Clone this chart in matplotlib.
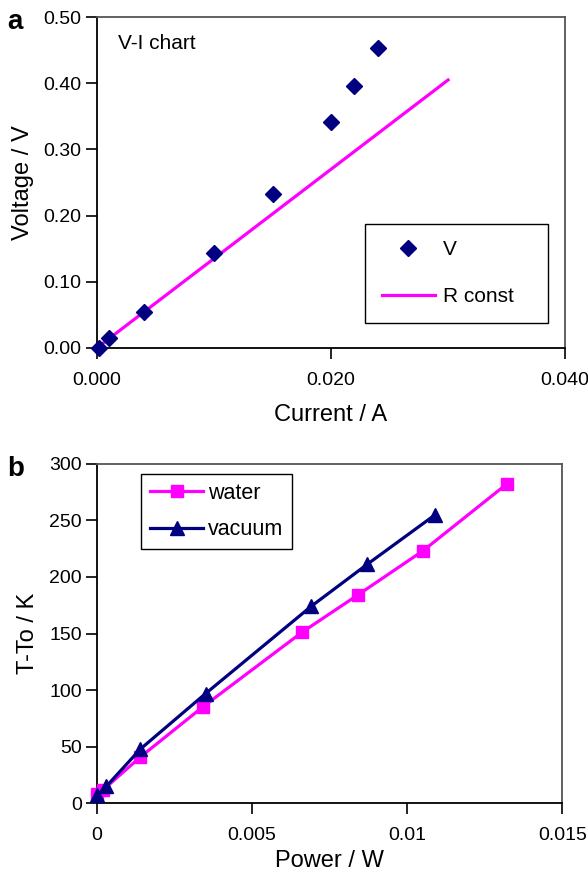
import numpy as np
import matplotlib.pyplot as plt
from matplotlib import rc

rc('font', **{'family': 'sans-serif', 'sans-serif': ['Liberation Sans', 'DejaVu Sans']})

# panel a: V-I data
current = [0.0002, 0.001, 0.004, 0.010, 0.015, 0.020, 0.022, 0.024]
voltage = [0.000, 0.015, 0.054, 0.143, 0.233, 0.342, 0.396, 0.454]
r_const_i = [0.0002, 0.030]
r_const_v = [0.003, 0.405]

# panel b: temperature rise vs power
water_p = [0.0, 0.0002, 0.0014, 0.0034, 0.0066, 0.0084, 0.0105, 0.0132]
water_t = [8.0, 12.0, 41.0, 85.0, 151.0, 184.0, 223.0, 282.0]
vacuum_p = [0.0, 0.0003, 0.0014, 0.0035, 0.0069, 0.0087, 0.0109]
vacuum_t = [7.0, 15.0, 48.0, 97.0, 174.0, 211.0, 255.0]

navy = '#000080'
magenta = '#ff00ff'

fig = plt.figure(figsize=(5.88, 8.73), dpi=100)
ax1 = fig.add_axes([0.165, 0.6014, 0.796, 0.379])
ax2 = fig.add_axes([0.165, 0.0798, 0.7916, 0.389])

def style(ax):
    for s in ['left', 'bottom']:
        ax.spines[s].set_color('black')
        ax.spines[s].set_linewidth(1.3)
    for s in ['top', 'right']:
        ax.spines[s].set_color('#555555')
        ax.spines[s].set_linewidth(1.3)
    ax.tick_params(axis='both', which='major', direction='out', length=8, width=1.2,
                   labelsize=14)
    ax.tick_params(axis='y', pad=3)
    ax.tick_params(axis='x', pad=9)

# ---- a ----
ax1.plot(current, voltage, 'D', color=navy, markersize=8.5, label='V', clip_on=False, zorder=3)
ax1.plot(r_const_i, r_const_v, '-', color=magenta, lw=2.3, label='R const')
ax1.set_xlim(0, 0.040)
ax1.set_ylim(0, 0.50)
ax1.set_xticks([0, 0.020, 0.040])
ax1.set_xticklabels(['0.000', '0.020', '0.040'])
ax1.set_yticks(np.arange(0, 0.51, 0.1))
ax1.set_yticklabels(['%.2f' % v for v in np.arange(0, 0.51, 0.1)])
ax1.set_xlabel('Current / A', fontsize=17, labelpad=11)
ax1.set_ylabel('Voltage / V', fontsize=17, labelpad=7)
ax1.text(0.045, 0.905, 'V-I chart', transform=ax1.transAxes, fontsize=15)
style(ax1)
leg = ax1.legend(loc='lower left', bbox_to_anchor=(0.573, 0.0755, 0.391, 0.30), mode='expand',
                 borderaxespad=0, fontsize=15, labelspacing=1.35, handlelength=2.55,
                 handletextpad=0.4, borderpad=0.8, fancybox=False, edgecolor='black',
                 framealpha=1)
leg.get_frame().set_linewidth(1.0)
fig.text(0.012, 0.967, 'a', fontsize=20, fontweight='bold')

# ---- b ----
ax2.plot(water_p, water_t, '-s', color=magenta, lw=2.3, markersize=8, label='water',
         clip_on=False, zorder=3)
ax2.plot(vacuum_p, vacuum_t, '-^', color=navy, lw=2.3, markersize=9.5, label='vacuum',
         clip_on=False, zorder=4)
ax2.set_xlim(0, 0.015)
ax2.set_ylim(0, 300)
ax2.set_xticks([0, 0.005, 0.01, 0.015])
ax2.set_xticklabels(['0', '0.005', '0.01', '0.015'])
ax2.set_yticks(np.arange(0, 301, 50))
ax2.set_xlabel('Power / W', fontsize=17, labelpad=4)
ax2.set_ylabel('T-To / K', fontsize=17, labelpad=7)
style(ax2)
leg2 = ax2.legend(loc='upper left', bbox_to_anchor=(0.0945, 0.97), borderaxespad=0,
                  fontsize=15.5, labelspacing=0.72, handlelength=2.5, handletextpad=0.2,
                  borderpad=0.4, fancybox=False, edgecolor='black', framealpha=1)
leg2.get_frame().set_linewidth(1.0)
fig.text(0.012, 0.455, 'b', fontsize=20, fontweight='bold')

fig.savefig('out.png', dpi=100)
